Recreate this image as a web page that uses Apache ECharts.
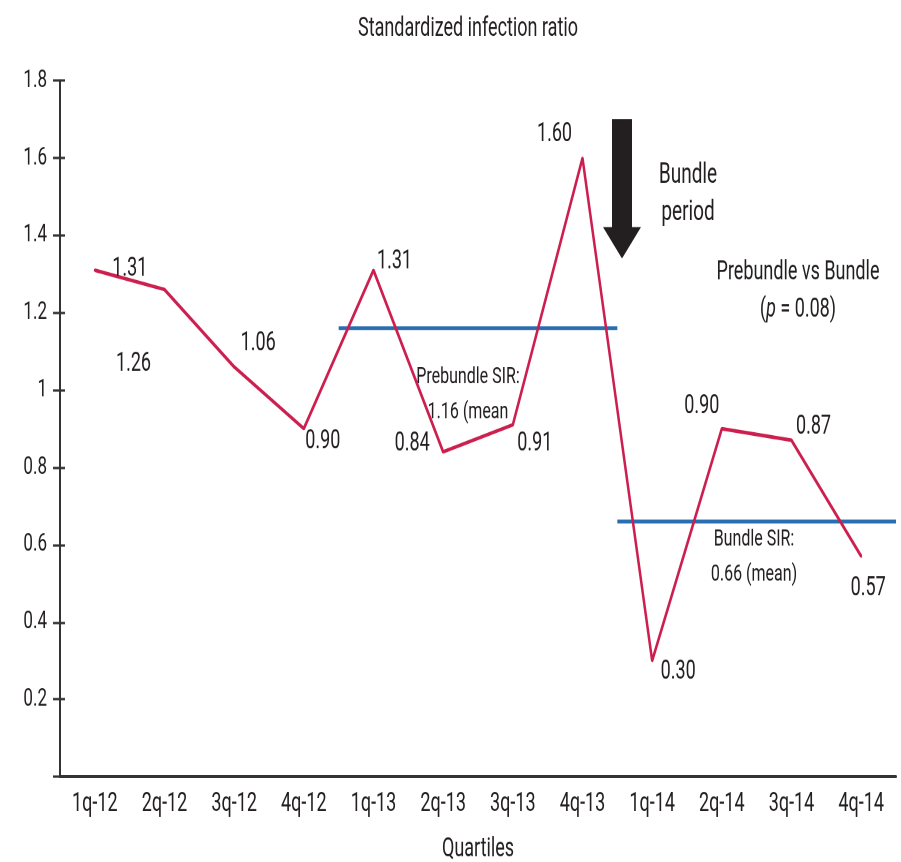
<!DOCTYPE html>
<html><head><meta charset="utf-8">
<script src="https://cdn.jsdelivr.net/npm/echarts@6/dist/echarts.min.js"></script>
<style>
  html, body { margin: 0; padding: 0; background: #fff; }
  #frame { position: relative; width: 901px; height: 862px; overflow: hidden; }
  /* the chart is laid out in a shorter box and stretched tall, which gives the tall, narrow lettering */
  #chart { position: absolute; left: 0; top: 0; width: 901px; height: 595px; transform: scaleY(1.4625); transform-origin: 0 0; }
</style>
</head><body>
<div id="frame"><div id="chart"></div></div>
<script>
// ---- data ----
const quarters = ['1q-12', '2q-12', '3q-12', '4q-12', '1q-13', '2q-13', '3q-13', '4q-13', '1q-14', '2q-14', '3q-14', '4q-14'];
const sirValues = [1.31, 1.26, 1.06, 0.90, 1.31, 0.84, 0.91, 1.60, 0.30, 0.90, 0.87, 0.57];

const periodNames = ['Prebundle', 'Bundle'];
const periodFirst = ['1q-13', '1q-14'];
const periodLast = ['4q-13', '4q-14'];
const periodMeans = [1.16, 0.66];

const yMin = 0, yMax = 1.8, yStep = 0.2;

// ---- layout helpers ----
const W = 901, H = 595;
const S = 862 / H;              // nominal vertical stretch used for placing things
const ry = y => y / S;          // page y -> chart y
const FONT = 'Roboto';
const INK = '#231f20';
const RED = '#cc1f4f';
const BLUE = '#2a6db0';

// where each value label sits relative to its point (page px)
const labelShift = [[35, -1], [-31, 74], [24, -23], [19, 13], [21, -8], [-31, -8],
                    [22, 19], [-28, -23], [26, 11], [-20, -22], [22, -13], [7, 32]];

const sirData = sirValues.map((v, i) => ({
  value: v,
  label: { offset: [labelShift[i][0], ry(labelShift[i][1])] }
}));

// mean lines span whole quarters: from the start of the first to the end of the last
const meanSeries = periodNames.map((name, k) => {
  const a = quarters.indexOf(periodFirst[k]);
  const b = quarters.indexOf(periodLast[k]) + 1;
  return {
    name: name + ' mean',
    type: 'line',
    xAxisIndex: 1,
    yAxisIndex: 0,
    data: [[a, periodMeans[k]], [b, periodMeans[k]]],
    symbol: 'none',
    silent: true,
    lineStyle: { color: BLUE, width: 2.6 },
    z: 2
  };
});

const txt = (x, y, text, size, extra) => ({
  type: 'text', x: x, y: ry(y), silent: true,
  style: Object.assign({
    text: text, fill: INK, fontFamily: FONT, fontSize: size,
    align: 'center', verticalAlign: 'middle'
  }, extra || {})
});

const chart = echarts.init(document.getElementById('chart'), null,
  { renderer: 'canvas', devicePixelRatio: 2, width: W, height: H });

chart.setOption({
  animation: false,
  backgroundColor: '#fff',
  title: {
    text: 'Standardized infection ratio',
    left: 463, top: ry(22) - 9, textAlign: 'center',
    textStyle: { fontFamily: FONT, fontSize: 18, fontWeight: 'normal', color: INK, lineHeight: 18 }
  },
  grid: { left: 60, right: 5, top: ry(80), bottom: H - ry(775.5) },
  xAxis: [{
    type: 'category',
    data: quarters,
    boundaryGap: true,
    name: 'Quartiles',
    nameLocation: 'middle',
    nameGap: 41,
    nameTextStyle: { fontFamily: FONT, fontSize: 18, color: INK, lineHeight: 18 },
    axisLine: { lineStyle: { color: '#333', width: 2 } },
    axisTick: { show: false },
    axisLabel: { fontFamily: FONT, fontSize: 18, color: INK, margin: 10, lineHeight: 18 },
    splitLine: { show: false }
  }, {
    type: 'value', min: 0, max: quarters.length, show: false
  }],
  yAxis: [{
    type: 'value', min: yMin, max: yMax, interval: yStep,
    axisLine: { show: true, lineStyle: { color: '#333', width: 2 } },
    axisTick: { show: true, length: 7, lineStyle: { color: '#333', width: 1.6 } },
    axisLabel: {
      fontFamily: FONT, fontSize: 17, color: INK, margin: 13,
      formatter: v => (v === 0 ? '' : String(+v.toFixed(1)))
    },
    splitLine: { show: false }
  }, {
    // short tick stubs on the inner side of the same axis
    type: 'value', min: yMin, max: yMax, interval: yStep, position: 'left',
    axisLine: { show: false },
    axisTick: { show: true, inside: true, length: 5, lineStyle: { color: '#333', width: 1.6 } },
    axisLabel: { show: false },
    splitLine: { show: false }
  }],
  series: [{
    name: 'SIR',
    type: 'line',
    data: sirData,
    symbol: 'circle',
    symbolSize: 2,
    itemStyle: { color: RED },
    lineStyle: { color: RED, width: 2.5 },
    z: 3,
    label: {
      show: true,
      position: 'inside',
      align: 'center',
      verticalAlign: 'middle',
      fontFamily: FONT, fontSize: 18, color: INK,
      formatter: p => p.value.toFixed(2)
    }
  }].concat(meanSeries),
  graphic: [
    {
      // bundle start arrow
      type: 'polygon', silent: true,
      shape: { points: [[612, ry(118)], [632, ry(118)], [632, ry(225)], [641, ry(225)],
                        [622, ry(256)], [603, ry(225)], [612, ry(225)]] },
      style: { fill: INK }
    },
    txt(688, 193, 'Bundle\nperiod', 19, { lineHeight: ry(37) }),
    txt(798, 270, 'Prebundle vs Bundle', 18),
    txt(798, 307, '({i|p} = 0.08)', 18, { rich: { i: { fontFamily: FONT, fontSize: 18, fontStyle: 'italic', fill: INK } } }),
    txt(468, 391, 'Prebundle SIR:\n1.16 (mean', 16, { lineHeight: ry(35) }),
    txt(754, 552, 'Bundle SIR:\n0.66 (mean)', 16, { lineHeight: ry(35) })
  ]
});
</script></body></html>
